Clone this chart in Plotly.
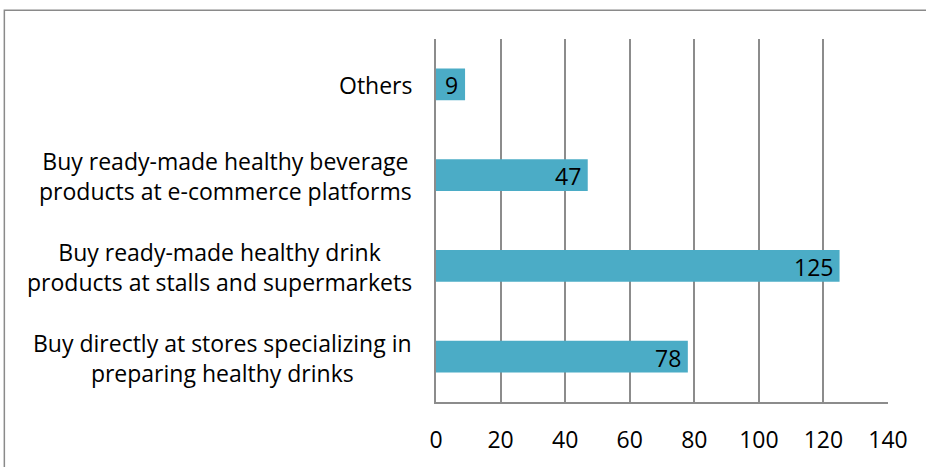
import plotly.graph_objects as go

# Purchase channels for healthy drinks (number of respondents)
categories = [
    "Buy directly at stores specializing in<br>preparing healthy drinks",
    "Buy ready-made healthy drink<br>products at stalls and supermarkets",
    "Buy ready-made healthy beverage<br>products at e-commerce platforms",
    "Others",
]
values = [78, 125, 47, 9]
x_ticks = [0, 20, 40, 60, 80, 100, 120, 140]

FONT = "Open Sans"
SIZE = 23
GRID = "#8c8c8c"
BAR = "#4bacc6"

fig = go.Figure(
    go.Bar(
        y=categories,
        x=values,
        orientation="h",
        marker=dict(color=BAR, line=dict(width=0)),
        hoverinfo="x+y",
    )
)

# value labels at the inner end of each bar
for cat, val in zip(categories, values):
    fig.add_annotation(
        x=val, y=cat, xref="x", yref="y",
        text=str(val), showarrow=False,
        xanchor="right", yanchor="middle",
        xshift=-5, yshift=-1,
        font=dict(family=FONT, size=SIZE, color="black"),
    )

# category labels, centred per block and right-aligned to the axis
for cat in categories:
    fig.add_annotation(
        x=0, y=cat, xref="paper", yref="y",
        text=cat, showarrow=False,
        xanchor="right", yanchor="middle", align="center",
        xshift=-22, yshift=-1,
        font=dict(family=FONT, size=SIZE, color="black"),
    )

# outer chart frame
fig.add_shape(
    type="rect", xref="paper", yref="paper",
    x0=-0.955, x1=3, y0=-1, y1=1.079,
    line=dict(color="#8a8a8a", width=1.5),
    fillcolor="rgba(0,0,0,0)", layer="below",
)

fig.update_layout(
    width=926, height=467,
    margin=dict(l=436, r=38, t=39, b=62),
    paper_bgcolor="white", plot_bgcolor="white",
    bargap=0.65,
    showlegend=False,
    font=dict(family=FONT, size=SIZE, color="black"),
    xaxis=dict(
        range=[0, 140], tickvals=x_ticks,
        showgrid=True, gridcolor=GRID, gridwidth=1.5,
        showline=True, linecolor=GRID, linewidth=1.5,
        zeroline=False, ticks="", ticklabelstandoff=17,
        tickfont=dict(family=FONT, size=SIZE, color="black"),
        fixedrange=True,
    ),
    yaxis=dict(
        showticklabels=False, showgrid=False,
        showline=True, linecolor=GRID, linewidth=1.5,
        zeroline=False, ticks="", fixedrange=True,
    ),
)

fig.write_html("out.html")
